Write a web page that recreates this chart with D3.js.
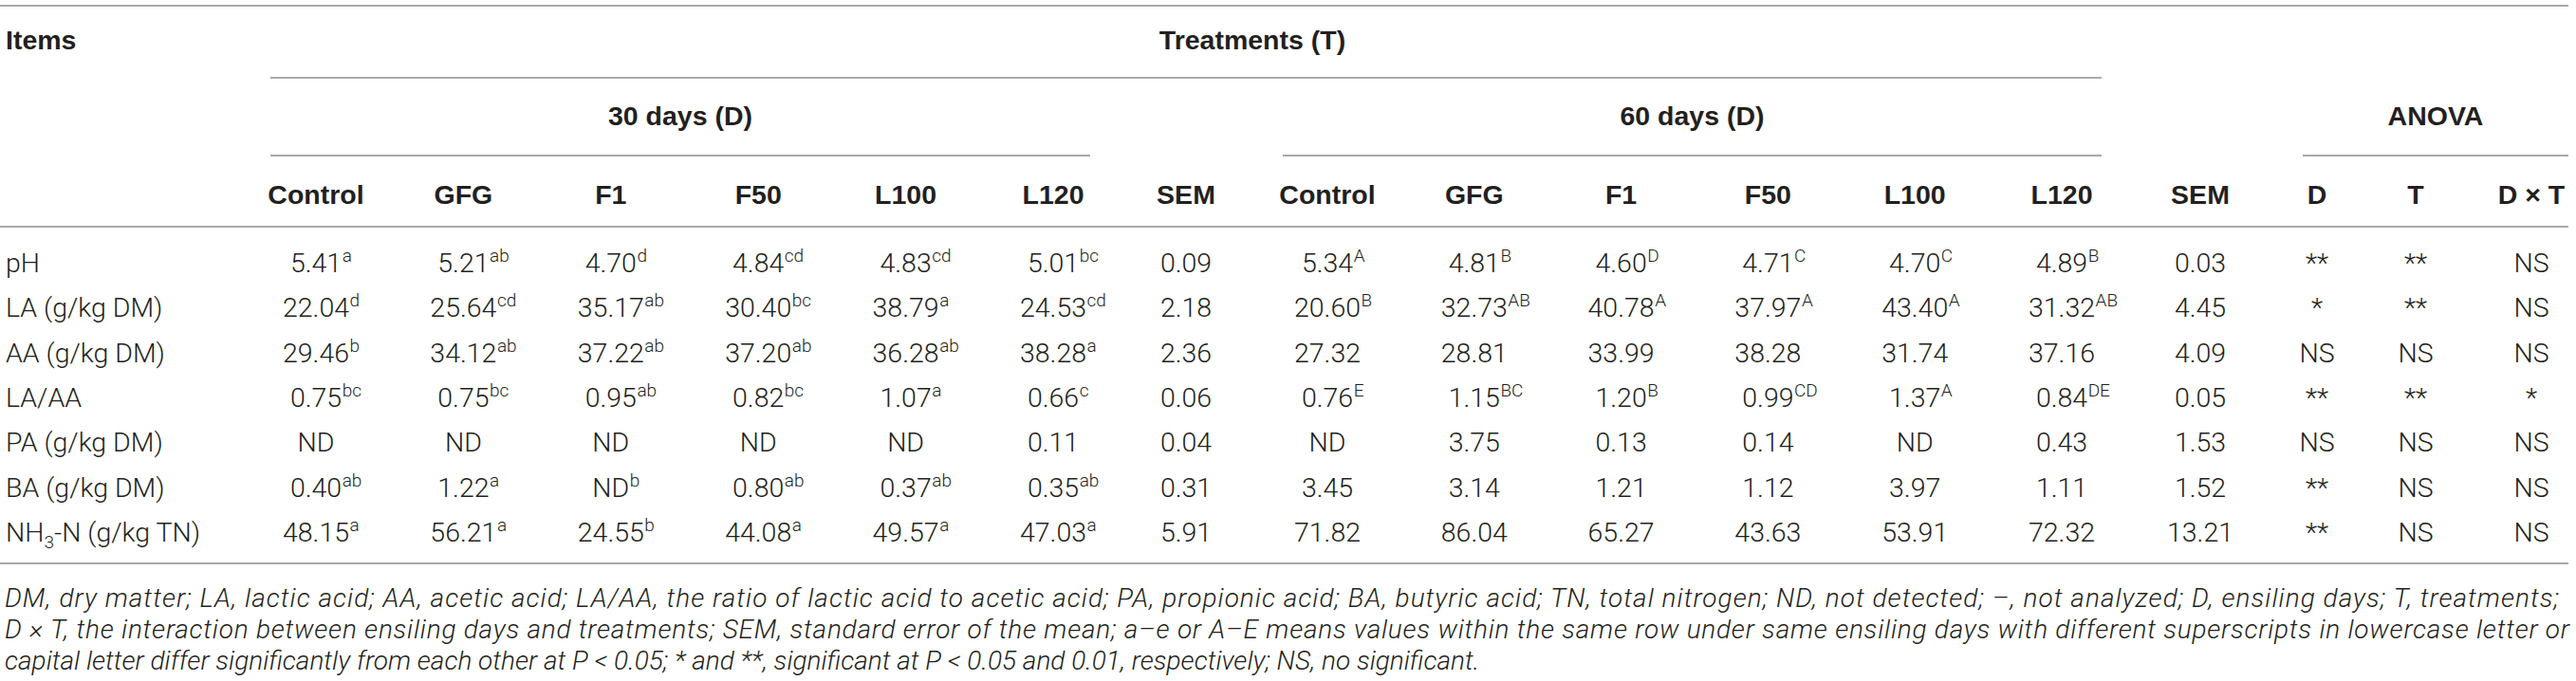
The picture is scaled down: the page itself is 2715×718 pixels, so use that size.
<!DOCTYPE html>
<html>
<head>
<meta charset="utf-8">
<script src="https://cdn.jsdelivr.net/npm/d3@7"></script>
<style>
    body { margin: 0; background: #fff; }
    svg text { fill: #231f20; }
    .hd { font-family: "Liberation Sans", Arial, sans-serif; font-weight: bold; font-size: 28.5px; }
    .cell { font-family: Roboto, "Liberation Sans", sans-serif; font-weight: 300; font-size: 28.5px; }
    .sup { font-family: Roboto, "Liberation Sans", sans-serif; font-weight: 300; font-size: 19px; }
    .note { font-family: Roboto, "Liberation Sans", sans-serif; font-weight: 300; font-style: italic; font-size: 28px; }
    .rule { stroke: #8c8c8c; stroke-width: 1.5; }
</style>
</head>
<body>
<svg id="table"></svg>
<script>
const rowLabels = ['pH', 'LA (g/kg DM)', 'AA (g/kg DM)', 'LA/AA', 'PA (g/kg DM)', 'BA (g/kg DM)', 'NH3-N (g/kg TN)']
const treatments = ['Control', 'GFG', 'F1', 'F50', 'L100', 'L120']
const periods = ['30 days (D)', '60 days (D)']
const anovaTerms = ['D', 'T', 'D \u00d7 T']

const d30Values = [
    ['5.41', '5.21', '4.70', '4.84', '4.83', '5.01'],
    ['22.04', '25.64', '35.17', '30.40', '38.79', '24.53'],
    ['29.46', '34.12', '37.22', '37.20', '36.28', '38.28'],
    ['0.75', '0.75', '0.95', '0.82', '1.07', '0.66'],
    ['ND', 'ND', 'ND', 'ND', 'ND', '0.11'],
    ['0.40', '1.22', 'ND', '0.80', '0.37', '0.35'],
    ['48.15', '56.21', '24.55', '44.08', '49.57', '47.03']
]
const d30Letters = [
    ['a', 'ab', 'd', 'cd', 'cd', 'bc'],
    ['d', 'cd', 'ab', 'bc', 'a', 'cd'],
    ['b', 'ab', 'ab', 'ab', 'ab', 'a'],
    ['bc', 'bc', 'ab', 'bc', 'a', 'c'],
    ['', '', '', '', '', ''],
    ['ab', 'a', 'b', 'ab', 'ab', 'ab'],
    ['a', 'a', 'b', 'a', 'a', 'a']
]
const sem30 = ['0.09', '2.18', '2.36', '0.06', '0.04', '0.31', '5.91']

const d60Values = [
    ['5.34', '4.81', '4.60', '4.71', '4.70', '4.89'],
    ['20.60', '32.73', '40.78', '37.97', '43.40', '31.32'],
    ['27.32', '28.81', '33.99', '38.28', '31.74', '37.16'],
    ['0.76', '1.15', '1.20', '0.99', '1.37', '0.84'],
    ['ND', '3.75', '0.13', '0.14', 'ND', '0.43'],
    ['3.45', '3.14', '1.21', '1.12', '3.97', '1.11'],
    ['71.82', '86.04', '65.27', '43.63', '53.91', '72.32']
]
const d60Letters = [
    ['A', 'B', 'D', 'C', 'C', 'B'],
    ['B', 'AB', 'A', 'A', 'A', 'AB'],
    ['', '', '', '', '', ''],
    ['E', 'BC', 'B', 'CD', 'A', 'DE'],
    ['', '', '', '', '', ''],
    ['', '', '', '', '', ''],
    ['', '', '', '', '', '']
]
const sem60 = ['0.03', '4.45', '4.09', '0.05', '1.53', '1.52', '13.21']

const anovaD = ['**', '*', 'NS', '**', 'NS', '**', '**']
const anovaT = ['**', '**', 'NS', '**', 'NS', 'NS', 'NS']
const anovaDT = ['NS', 'NS', 'NS', '*', 'NS', 'NS', 'NS']

const footnotes = [
    'DM, dry matter; LA, lactic acid; AA, acetic acid; LA/AA, the ratio of lactic acid to acetic acid; PA, propionic acid; BA, butyric acid; TN, total nitrogen; ND, not detected; \u2013, not analyzed; D, ensiling days; T, treatments;',
    'D \u00d7 T, the interaction between ensiling days and treatments; SEM, standard error of the mean; a\u2013e or A\u2013E means values within the same row under same ensiling days with different superscripts in lowercase letter or',
    'capital letter differ significantly from each other at P < 0.05; * and **, significant at P < 0.05 and 0.01, respectively; NS, no significant.'
]

// ---- layout ----
const config = {
    width: 2715, height: 718,
    right: 2707,
    lines: {top: 6, treat: 82, period: 164, head: 239, bottom: 594},
    spans: {treat: [285, 2215], period: [[285, 1149], [1352, 2215]], anova: [2427, 2707]},
    base: {items: 52, period: 132, col: 215},
    semX: [1250, 2319],
    anovaX: [2442, 2546, 2668]
}

const svg = d3.select('#table')
    .attr('width', config.width)
    .attr('height', config.height)

const xGroup = [
    d3.scalePoint().domain(treatments).range([333, 1110]),
    d3.scalePoint().domain(treatments).range([1399, 2173])
]
const xAnova = d3.scaleOrdinal().domain(anovaTerms).range(config.anovaX)
const yRow = d3.scalePoint().domain(rowLabels).range([287, 571])

// rules
const rules = [
    [0, config.right, config.lines.top],
    [config.spans.treat[0], config.spans.treat[1], config.lines.treat],
    [config.spans.period[0][0], config.spans.period[0][1], config.lines.period],
    [config.spans.period[1][0], config.spans.period[1][1], config.lines.period],
    [config.spans.anova[0], config.spans.anova[1], config.lines.period],
    [0, config.right, config.lines.head],
    [0, config.right, config.lines.bottom]
]
svg.selectAll('line.rule')
    .data(rules)
    .join('line')
    .attr('class', 'rule')
    .attr('x1', d => d[0]).attr('x2', d => d[1])
    .attr('y1', d => d[2]).attr('y2', d => d[2])

// header
const hd = svg.append('g')
hd.append('text').attr('class', 'hd').attr('x', 6).attr('y', config.base.items).text('Items')
hd.append('text').attr('class', 'hd').attr('x', 1320).attr('y', config.base.items)
    .attr('text-anchor', 'middle').text('Treatments (T)')
hd.selectAll('text.period')
    .data(periods)
    .join('text')
    .attr('class', 'hd period')
    .attr('x', (d, i) => d3.mean(config.spans.period[i]))
    .attr('y', config.base.period)
    .attr('text-anchor', 'middle')
    .text(d => d)
hd.append('text').attr('class', 'hd').attr('x', d3.mean(config.spans.anova)).attr('y', config.base.period)
    .attr('text-anchor', 'middle').text('ANOVA')

xGroup.forEach((sc, i) => {
    hd.selectAll('text.col' + i)
        .data(treatments)
        .join('text')
        .attr('class', 'hd col' + i)
        .attr('x', d => sc(d))
        .attr('y', config.base.col)
        .attr('text-anchor', 'middle')
        .text(d => d)
    hd.append('text').attr('class', 'hd').attr('x', config.semX[i]).attr('y', config.base.col)
        .attr('text-anchor', 'middle').text('SEM')
})
hd.selectAll('text.anova')
    .data(anovaTerms)
    .join('text')
    .attr('class', 'hd anova')
    .attr('x', d => xAnova(d))
    .attr('y', config.base.col)
    .attr('text-anchor', 'middle')
    .text(d => d)

// body
const body = svg.append('g')

// row labels, NH3 gets a subscript
rowLabels.forEach(label => {
    const t = body.append('text').attr('class', 'cell').attr('x', 6).attr('y', yRow(label))
    const m = label.match(/^NH3(.*)$/)
    if (m) {
        t.append('tspan').text('NH')
        t.append('tspan').attr('class', 'sup').attr('dy', 7).text('3')
        t.append('tspan').attr('dy', -7).text(m[1])
    } else {
        t.text(label)
    }
})

// value with hanging superscript letters, number centred on the column
function drawCell(x, y, value, letters) {
    const t = body.append('text').attr('class', 'cell')
        .attr('x', x).attr('y', y)
        .attr('text-anchor', 'middle')
        .text(value)
    if (letters) {
        const w = t.node().getComputedTextLength()
        body.append('text').attr('class', 'sup')
            .attr('x', x + w / 2 + 0.5)
            .attr('y', y - 11)
            .text(letters)
    }
}

const groups = [
    {values: d30Values, letters: d30Letters, sem: sem30},
    {values: d60Values, letters: d60Letters, sem: sem60}
]
groups.forEach((g, gi) => {
    rowLabels.forEach((label, ri) => {
        treatments.forEach((tr, ti) => {
            drawCell(xGroup[gi](tr), yRow(label), g.values[ri][ti], g.letters[ri][ti])
        })
        drawCell(config.semX[gi], yRow(label), g.sem[ri], '')
    })
})

const anovaCols = [anovaD, anovaT, anovaDT]
anovaCols.forEach((col, ci) => {
    rowLabels.forEach((label, ri) => {
        drawCell(xAnova(anovaTerms[ci]), yRow(label), col[ri], '')
    })
})

// footnote
const noteBase = [640, 673, 706]
const noteLen = [2692, 2703, null]
footnotes.forEach((txt, i) => {
    const t = svg.append('text').attr('class', 'note')
        .attr('x', 5).attr('y', noteBase[i])
        .text(txt)
    if (noteLen[i]) {
        t.attr('textLength', noteLen[i]).attr('lengthAdjust', 'spacing')
    }
})
</script>
</body>
</html>
